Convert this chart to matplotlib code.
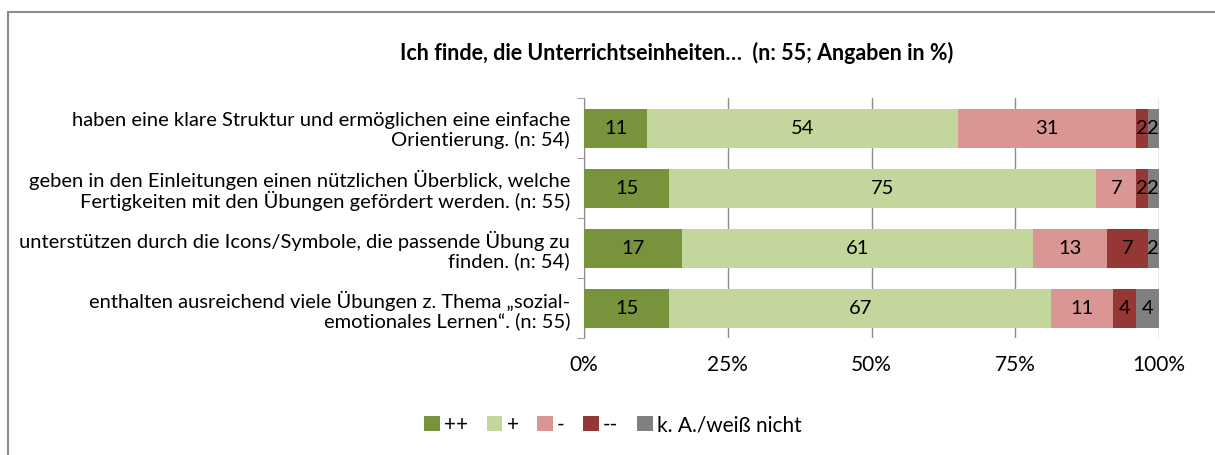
import numpy as np
import matplotlib.pyplot as plt
from matplotlib.patches import Rectangle

plt.rcParams['font.family'] = ['Lato', 'DejaVu Sans']

title = 'Ich finde, die Unterrichtseinheiten…  (n: 55; Angaben in %)'
categories = [
    'haben eine klare Struktur und ermöglichen eine einfache\nOrientierung. (n: 54)',
    'geben in den Einleitungen einen nützlichen Überblick, welche\nFertigkeiten mit den Übungen gefördert werden. (n: 55)',
    'unterstützen durch die Icons/Symbole, die passende Übung zu\nfinden. (n: 54)',
    'enthalten ausreichend viele Übungen z. Thema „sozial-\nemotionales Lernen“. (n: 55)',
]
series_names = ['++', '+', '-', '--', 'k. A./weiß nicht']
values = {
    '++': [11, 15, 17, 15],
    '+': [54, 75, 61, 67],
    '-': [31, 7, 13, 11],
    '--': [2, 2, 7, 4],
    'k. A./weiß nicht': [2, 2, 2, 4],
}
colors = ['#77933C', '#C3D69B', '#D99694', '#953735', '#808080']
xticks = [0, 25, 50, 75, 100]
xticklabels = ['0%', '25%', '50%', '75%', '100%']

fig = plt.figure(figsize=(12.15, 4.55), dpi=100)
fig.patches.append(Rectangle((8 / 1215, -0.01), 1.0, 1 - 12 / 455 + 0.01,
                             transform=fig.transFigure, fill=False,
                             edgecolor='#8c8c8c', linewidth=1.5))
ax = fig.add_axes([584 / 1215, 1 - 338 / 455, (1159 - 584) / 1215, 240 / 455])

totals = np.sum([values[s] for s in series_names], axis=0).astype(float)
y = np.arange(len(categories))
left = np.zeros(len(categories))
for name, col in zip(series_names, colors):
    v = np.array(values[name], dtype=float)
    w = v / totals * 100
    ax.barh(y, w, left=left, height=0.65, color=col, label=name, zorder=3)
    for yi, (l, wi, vi) in enumerate(zip(left, w, v)):
        ax.text(l + wi / 2, yi, str(int(vi)), ha='center', va='center',
                fontsize=14.5, color='black', zorder=4)
    left += w

ax.set_xlim(0, 100)
ax.set_ylim(len(categories) - 0.5, -0.5)
ax.set_xticks(xticks)
ax.set_xticklabels(xticklabels, fontsize=15)
ax.set_yticks(y)
ax.set_yticklabels(categories, fontsize=14.5, linespacing=1.1)
ax.set_yticks(np.arange(len(categories) + 1) - 0.5, minor=True)
ax.tick_params(axis='y', which='major', length=0, pad=10)
ax.tick_params(axis='y', which='minor', length=5, color='#8c8c8c')
ax.tick_params(axis='x', length=0, pad=12)
ax.grid(axis='x', color='#8c8c8c', linewidth=1, zorder=0)
for s in ['top', 'right', 'bottom']:
    ax.spines[s].set_visible(False)
ax.spines['left'].set_color('#8c8c8c')

fig.text(0.557, 1 - 53 / 455, title, ha='center', va='center',
         fontsize=15.5, fontweight='bold')
fig.legend(loc='center', bbox_to_anchor=(613 / 1215, 1 - 425 / 455), ncol=5,
           frameon=False, fontsize=15, handlelength=0.75, handleheight=0.75,
           handletextpad=0.2, columnspacing=0.9)

fig.savefig('out.png', dpi=100)
